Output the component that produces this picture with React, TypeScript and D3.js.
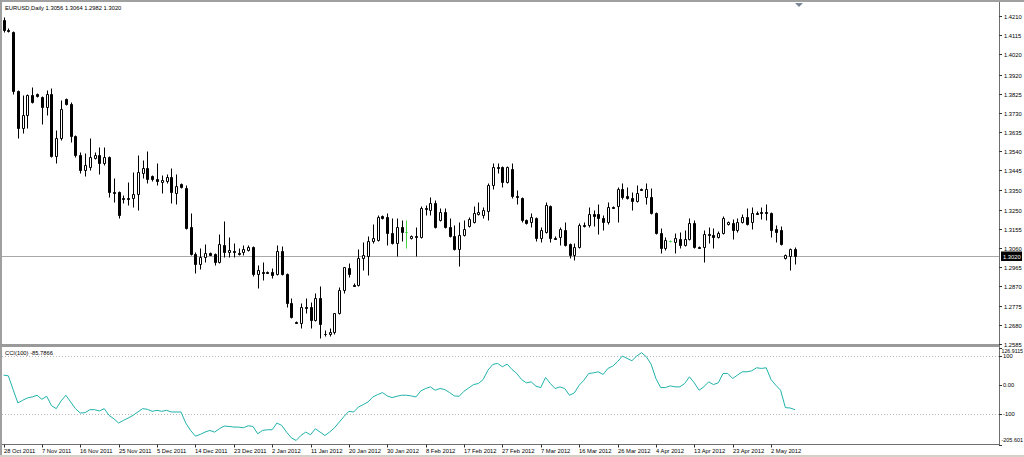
import React from "react";
import * as d3 from "d3";

// ---- Data (EURUSD Daily) ----
const opens = [
  1.4190, 1.4140, 1.4130, 1.3838, 1.3654, 1.3719, 1.3818, 1.3823, 1.3808, 1.3758,
  1.3823, 1.3515, 1.3605, 1.3798, 1.3773, 1.3614, 1.3520, 1.3446, 1.3461, 1.3505,
  1.3520, 1.3481, 1.3510, 1.3337, 1.3337, 1.3307, 1.3307, 1.3307, 1.3327, 1.3431,
  1.3456, 1.3416, 1.3401, 1.3386, 1.3391, 1.3411, 1.3332, 1.3376, 1.3357, 1.3163,
  1.3029, 1.2980, 1.3014, 1.3034, 1.3029, 1.2989, 1.3074, 1.3039, 1.3044, 1.3034,
  1.3039, 1.3049, 1.3064, 1.2930, 1.2940, 1.2940, 1.2940, 1.2930, 1.3044, 1.2930,
  1.2786, 1.2692, 1.2687, 1.2766, 1.2766, 1.2702, 1.2811, 1.2637, 1.2637, 1.2642,
  1.2737, 1.2851, 1.2960, 1.2875, 1.2875, 1.3009, 1.3019, 1.3094, 1.3099, 1.3218,
  1.3213, 1.3133, 1.3084, 1.3163, 1.3138, 1.3109, 1.3118, 1.3113, 1.3257, 1.3247,
  1.3282, 1.3198, 1.3237, 1.3163, 1.3118, 1.3054, 1.3123, 1.3168, 1.3188, 1.3228,
  1.3223, 1.3242, 1.3371, 1.3461, 1.3461, 1.3386, 1.3451, 1.3317, 1.3307, 1.3198,
  1.3188, 1.3208, 1.3109, 1.3138, 1.3267, 1.3109, 1.3113, 1.3148, 1.3079, 1.3024,
  1.3064, 1.3173, 1.3173, 1.3228, 1.3228, 1.3208, 1.3188, 1.3262, 1.3267, 1.3352,
  1.3317, 1.3307, 1.3292, 1.3352, 1.3312, 1.3312, 1.3233, 1.3133, 1.3059, 1.3094,
  1.3089, 1.3104, 1.3074, 1.3104, 1.3183, 1.3064, 1.3064, 1.3128, 1.3123, 1.3113,
  1.3133, 1.3178, 1.3183, 1.3148, 1.3188, 1.3213, 1.3188, 1.3233, 1.3237, 1.3237,
  1.3233, 1.3153, 1.3148, 1.3009, 1.3019, 1.3056,
];
const highs = [
  1.4205, 1.4150, 1.4135, 1.3843, 1.3818, 1.3823, 1.3857, 1.3828, 1.3813, 1.3843,
  1.3853, 1.3644, 1.3793, 1.3803, 1.3783, 1.3619, 1.3535, 1.3530, 1.3605, 1.3535,
  1.3560, 1.3560, 1.3515, 1.3406, 1.3342, 1.3322, 1.3386, 1.3436, 1.3520, 1.3495,
  1.3540, 1.3421, 1.3481, 1.3421, 1.3426, 1.3456, 1.3426, 1.3381, 1.3371, 1.3233,
  1.3039, 1.3059, 1.3079, 1.3039, 1.3034, 1.3128, 1.3193, 1.3113, 1.3084, 1.3059,
  1.3074, 1.3074, 1.3069, 1.2975, 1.2989, 1.2945, 1.2960, 1.3074, 1.3069, 1.2935,
  1.2811, 1.2697, 1.2786, 1.2811, 1.2791, 1.2836, 1.2870, 1.2652, 1.2662, 1.2741,
  1.2865, 1.2965, 1.2985, 1.2885, 1.3054, 1.3089, 1.3118, 1.3178, 1.3223, 1.3223,
  1.3233, 1.3208, 1.3208, 1.3198, 1.3198, 1.3123, 1.3163, 1.3267, 1.3272, 1.3312,
  1.3297, 1.3257, 1.3257, 1.3208, 1.3173, 1.3188, 1.3198, 1.3213, 1.3267, 1.3287,
  1.3262, 1.3381, 1.3481, 1.3481, 1.3466, 1.3466, 1.3481, 1.3347, 1.3312, 1.3203,
  1.3233, 1.3213, 1.3163, 1.3287, 1.3272, 1.3118, 1.3163, 1.3188, 1.3084, 1.3084,
  1.3183, 1.3188, 1.3262, 1.3247, 1.3277, 1.3223, 1.3287, 1.3267, 1.3361, 1.3381,
  1.3361, 1.3337, 1.3371, 1.3357, 1.3381, 1.3357, 1.3237, 1.3158, 1.3113, 1.3099,
  1.3133, 1.3138, 1.3148, 1.3208, 1.3198, 1.3069, 1.3148, 1.3163, 1.3158, 1.3143,
  1.3218, 1.3193, 1.3203, 1.3208, 1.3228, 1.3257, 1.3262, 1.3242, 1.3262, 1.3277,
  1.3237, 1.3173, 1.3168, 1.3029, 1.3059, 1.3064,
];
const lows = [
  1.4130, 1.4130, 1.3823, 1.3605, 1.3629, 1.3654, 1.3778, 1.3808, 1.3674, 1.3719,
  1.3510, 1.3481, 1.3595, 1.3768, 1.3585, 1.3510, 1.3431, 1.3416, 1.3446, 1.3500,
  1.3426, 1.3471, 1.3312, 1.3287, 1.3208, 1.3282, 1.3272, 1.3262, 1.3247, 1.3406,
  1.3381, 1.3391, 1.3371, 1.3332, 1.3381, 1.3282, 1.3277, 1.3357, 1.3153, 1.3024,
  1.2935, 1.2955, 1.2989, 1.3024, 1.2975, 1.2985, 1.3014, 1.3014, 1.3014, 1.3024,
  1.3024, 1.3044, 1.2920, 1.2861, 1.2900, 1.2935, 1.2910, 1.2925, 1.2925, 1.2766,
  1.2712, 1.2687, 1.2662, 1.2737, 1.2662, 1.2697, 1.2617, 1.2627, 1.2627, 1.2637,
  1.2732, 1.2836, 1.2915, 1.2870, 1.2870, 1.2950, 1.2925, 1.3084, 1.3094, 1.3203,
  1.3074, 1.3079, 1.3019, 1.3094, 1.3059, 1.3104, 1.3019, 1.3109, 1.3223, 1.3223,
  1.3158, 1.3193, 1.3158, 1.3113, 1.3049, 1.2970, 1.3118, 1.3163, 1.3183, 1.3223,
  1.3208, 1.3198, 1.3352, 1.3431, 1.3361, 1.3381, 1.3307, 1.3277, 1.3188, 1.3178,
  1.3163, 1.3094, 1.3089, 1.3133, 1.3089, 1.3104, 1.3074, 1.3069, 1.3009, 1.2999,
  1.3059, 1.3163, 1.3163, 1.3168, 1.3128, 1.3148, 1.3178, 1.3257, 1.3188, 1.3302,
  1.3302, 1.3247, 1.3287, 1.3347, 1.3277, 1.3228, 1.3128, 1.3034, 1.3049, 1.3089,
  1.3034, 1.3059, 1.3069, 1.3099, 1.3059, 1.3059, 1.2989, 1.3084, 1.3059, 1.3109,
  1.3128, 1.3173, 1.3104, 1.3138, 1.3183, 1.3173, 1.3153, 1.3228, 1.3203, 1.3198,
  1.3113, 1.3089, 1.3074, 1.3004, 1.2950, 1.2982,
];
const closes = [
  1.4140, 1.4138, 1.3838, 1.3654, 1.3719, 1.3818, 1.3783, 1.3813, 1.3758, 1.3823,
  1.3515, 1.3605, 1.3748, 1.3773, 1.3614, 1.3520, 1.3446, 1.3471, 1.3510, 1.3520,
  1.3481, 1.3510, 1.3337, 1.3332, 1.3223, 1.3304, 1.3304, 1.3327, 1.3436, 1.3456,
  1.3401, 1.3401, 1.3391, 1.3396, 1.3411, 1.3337, 1.3366, 1.3361, 1.3158, 1.3029,
  1.2980, 1.3014, 1.3034, 1.3027, 1.2989, 1.3079, 1.3039, 1.3049, 1.3042, 1.3032,
  1.3054, 1.3064, 1.2930, 1.2950, 1.2937, 1.2937, 1.2925, 1.3044, 1.2930, 1.2786,
  1.2717, 1.2689, 1.2766, 1.2764, 1.2702, 1.2811, 1.2682, 1.2635, 1.2642, 1.2737,
  1.2851, 1.2965, 1.2930, 1.2873, 1.3009, 1.3024, 1.3094, 1.3109, 1.3213, 1.3208,
  1.3133, 1.3084, 1.3163, 1.3138, 1.3138, 1.3118, 1.3116, 1.3257, 1.3255, 1.3282,
  1.3163, 1.3237, 1.3163, 1.3118, 1.3054, 1.3123, 1.3153, 1.3203, 1.3233, 1.3237,
  1.3247, 1.3371, 1.3461, 1.3458, 1.3386, 1.3461, 1.3317, 1.3314, 1.3198, 1.3183,
  1.3213, 1.3109, 1.3148, 1.3272, 1.3109, 1.3106, 1.3153, 1.3074, 1.3024, 1.3064,
  1.3173, 1.3170, 1.3228, 1.3218, 1.3208, 1.3188, 1.3262, 1.3260, 1.3352, 1.3312,
  1.3307, 1.3292, 1.3332, 1.3349, 1.3352, 1.3233, 1.3133, 1.3059, 1.3099, 1.3094,
  1.3109, 1.3074, 1.3104, 1.3183, 1.3064, 1.3061, 1.3128, 1.3126, 1.3113, 1.3133,
  1.3208, 1.3188, 1.3148, 1.3188, 1.3213, 1.3178, 1.3233, 1.3230, 1.3235, 1.3235,
  1.3148, 1.3138, 1.3079, 1.3024, 1.3054, 1.3020,
];
const cci = [
  33.4, 31.1, -16.3, -62.5, -53.2, -45.1, -41.7, -35.9, -49.8, -39.4,
  -71.7, -82.1, -55.5, -35.9, -59.0, -82.1, -97.1, -95.9, -85.6, -85.6,
  -90.2, -82.1, -105.2, -116.7, -131.7, -122.5, -114.4, -105.2, -93.6, -82.1,
  -84.4, -91.3, -87.9, -91.3, -87.9, -93.6, -93.6, -93.6, -131.7, -157.1,
  -176.8, -171.0, -162.9, -157.1, -162.9, -151.4, -142.1, -143.3, -145.6, -145.6,
  -147.9, -141.0, -143.3, -168.7, -157.1, -154.8, -154.8, -131.7, -139.8, -162.9,
  -182.5, -191.8, -174.5, -162.9, -172.1, -151.4, -162.9, -174.5, -162.9, -147.9,
  -128.3, -108.6, -91.3, -93.6, -76.3, -68.2, -59.0, -41.7, -33.6, -26.7,
  -38.2, -44.0, -39.4, -35.9, -35.9, -38.2, -41.7, -20.9, -12.8, -7.0,
  -18.6, -12.8, -16.3, -26.7, -38.2, -39.4, -22.1, -10.5, 1.0, 4.5,
  18.4, 50.7, 70.3, 73.8, 62.2, 71.5, 53.0, 39.1, 18.4, 6.8,
  10.3, -4.7, -9.4, 25.3, 4.5, -12.8, -7.0, -12.8, -35.9, -27.8,
  -1.3, 16.0, 39.1, 41.4, 44.9, 35.7, 56.5, 64.5, 79.6, 99.2,
  91.1, 83.0, 99.2, 110.7, 96.9, 71.5, 21.8, -9.4, -9.4, -3.6,
  -7.0, -7.0, 4.5, 27.6, 6.8, -18.6, -7.0, 10.3, 1.0, 6.8,
  39.1, 39.1, 21.8, 33.4, 44.9, 44.9, 48.4, 58.8, 56.5, 58.8,
  18.4, -1.3, -18.6, -78.6, -79.8, -85.7866,
];
const priceTicks = [
  "1.4210", "1.4115", "1.4020", "1.3920", "1.3825", "1.3730", "1.3635", "1.3540", "1.3445",
  "1.3350", "1.3250", "1.3155", "1.3060", "1.2965", "1.2870", "1.2775", "1.2680", "1.2585",
];
const dateLabels = [
  "28 Oct 2011", "7 Nov 2011", "16 Nov 2011", "25 Nov 2011", "5 Dec 2011", "14 Dec 2011",
  "23 Dec 2011", "2 Jan 2012", "11 Jan 2012", "20 Jan 2012", "30 Jan 2012", "8 Feb 2012",
  "17 Feb 2012", "27 Feb 2012", "7 Mar 2012", "16 Mar 2012", "26 Mar 2012", "4 Apr 2012",
  "13 Apr 2012", "23 Apr 2012", "2 May 2012",
];
const dateStep = 8;
const cciTicks = [
  { v: 126.9115, label: "126.9115" },
  { v: 100, label: "100" },
  { v: 0, label: "0.00" },
  { v: -100, label: "-100" },
  { v: -205.601, label: "-205.601" },
];
const cciLevels = [100, -100];
const symbolTitle = "EURUSD,Daily  1.3056 1.3064 1.2982 1.3020";
const cciTitle = "CCI(100) -85.7866";
const lastPrice = 1.302;

const FONT = "'Liberation Sans', Arial, sans-serif";
const FS = 5.8;

export default function App() {
  const W = 1024, H = 457;
  const left = 2, right = 999;
  const mainTop = 2, mainBottom = 344;
  const cciTop = 348, cciBottom = 444.5;
  const n = opens.length;

  const x = d3.scaleLinear().domain([0, n - 1]).range([3.5, 795]);
  const y = d3.scaleLinear().domain([1.2585, 1.421]).range([344, 16]);
  const yc = d3.scaleLinear().domain([-205.601, 126.9115]).range([cciBottom, cciTop]);

  const cciLine = d3.line<number>().x((_, i) => x(i)).y((v) => yc(v));

  const candles = opens.map((o, i) => {
    const c = closes[i];
    const cx = Math.round(x(i)) + 0.5;
    const yH = y(highs[i]), yL = y(lows[i]);
    const yO = y(o), yC = y(c);
    const top = Math.round(Math.min(yO, yC)) + 0.5;
    const bot = Math.round(Math.max(yO, yC)) + 0.5;
    const doji = o === c;
    const bull = c > o;
    const col = doji ? "#44d444" : "#000";
    return (
      <g key={i}>
        <line x1={cx} x2={cx} y1={Math.round(yH) + 0.5} y2={Math.round(yL) + 0.5} stroke={col} strokeWidth={1} />
        <path
          d={`M${cx - 1},${top}H${cx + 1}V${bot}H${cx - 1}Z`}
          fill={doji ? "none" : bull ? "#fff" : "#000"}
          stroke={col}
          strokeWidth={1}
        />
      </g>
    );
  });

  const yLast = Math.round(y(lastPrice)) + 0.5;

  return (
    <svg width={W} height={H} style={{ position: "absolute", left: 0, top: 0, display: "block" }} fontFamily={FONT}>
      <defs>
        <clipPath id="mainClip">
          <rect x={left} y={mainTop} width={right - left} height={mainBottom - mainTop} />
        </clipPath>
        <clipPath id="cciClip">
          <rect x={left} y={cciTop - 1} width={right - left} height={cciBottom - cciTop + 2} />
        </clipPath>
      </defs>
      <rect x={0} y={0} width={W} height={H} fill="#fff" />

      {/* frame */}
      <rect x={0} y={0} width={W} height={2} fill="#a0a0a0" />
      <rect x={0} y={0} width={2} height={H} fill="#a0a0a0" />
      <rect x={0} y={455} width={W} height={2} fill="#d4d0c8" />
      <rect x={0} y={mainBottom} width={right} height={3} fill="#9a9a9a" />
      <line x1={right + 0.5} x2={right + 0.5} y1={2} y2={cciBottom} stroke="#6e6e6e" />
      <line x1={left} x2={right + 1} y1={cciBottom} y2={cciBottom} stroke="#6e6e6e" />

      {/* chart shift marker */}
      <path d="M795,3H803L799,7Z" fill="#7a8796" />

      {/* price axis */}
      {priceTicks.map((t) => {
        const ty = Math.round(y(+t)) + 0.5;
        return (
          <g key={t}>
            <line x1={right} x2={right + 3} y1={ty} y2={ty} stroke="#333" />
            <text x={1004} y={ty + 2} fontSize={FS} fill="#000">{t}</text>
          </g>
        );
      })}

      {/* last price line and label */}
      <line x1={left} x2={right} y1={yLast} y2={yLast} stroke="#a8a8a8" />
      <rect x={1001} y={yLast - 5} width={21} height={9.5} fill="#000" />
      <text x={1003} y={yLast + 2} fontSize={FS} fill="#fff">{lastPrice.toFixed(4)}</text>

      <g clipPath="url(#mainClip)">{candles}</g>
      <text x={5} y={9.5} fontSize={FS} fill="#000">{symbolTitle}</text>

      {/* CCI panel */}
      {cciLevels.map((lv) => (
        <line key={lv} x1={left} x2={right} y1={Math.round(yc(lv)) + 0.5} y2={Math.round(yc(lv)) + 0.5}
          stroke="#b8b8b8" strokeDasharray="1,2" />
      ))}
      <g clipPath="url(#cciClip)">
        <path d={cciLine(cci) || ""} fill="none" stroke="#20b2aa" strokeWidth={1} />
      </g>
      <text x={5} y={354.5} fontSize={FS} fill="#000">{cciTitle}</text>
      {cciTicks.map((t, k) => {
        const first = k === 0;
        const last = k === cciTicks.length - 1;
        let ty = yc(t.v) + 2;
        if (first) ty = 352.5;
        if (last) ty = 442;
        const long = first || last;
        return (
          <g key={t.label}>
            <line x1={right} x2={right + 3} y1={Math.round(yc(t.v)) + 0.5} y2={Math.round(yc(t.v)) + 0.5} stroke="#333" />
            <text x={long ? 1001.5 : 1003} y={ty} fontSize={long ? 5.4 : FS} fill="#000"
              textLength={long ? 21.5 : undefined} lengthAdjust="spacingAndGlyphs">{t.label}</text>
          </g>
        );
      })}

      {/* date axis */}
      {dateLabels.map((d, k) => {
        const dx = Math.round(x(k * dateStep)) + 0.5;
        return (
          <g key={d}>
            <line x1={dx} x2={dx} y1={cciBottom} y2={cciBottom + 3} stroke="#333" />
            <text x={dx - 0.5} y={452.5} fontSize={FS} fill="#000">{d}</text>
          </g>
        );
      })}
    </svg>
  );
}
